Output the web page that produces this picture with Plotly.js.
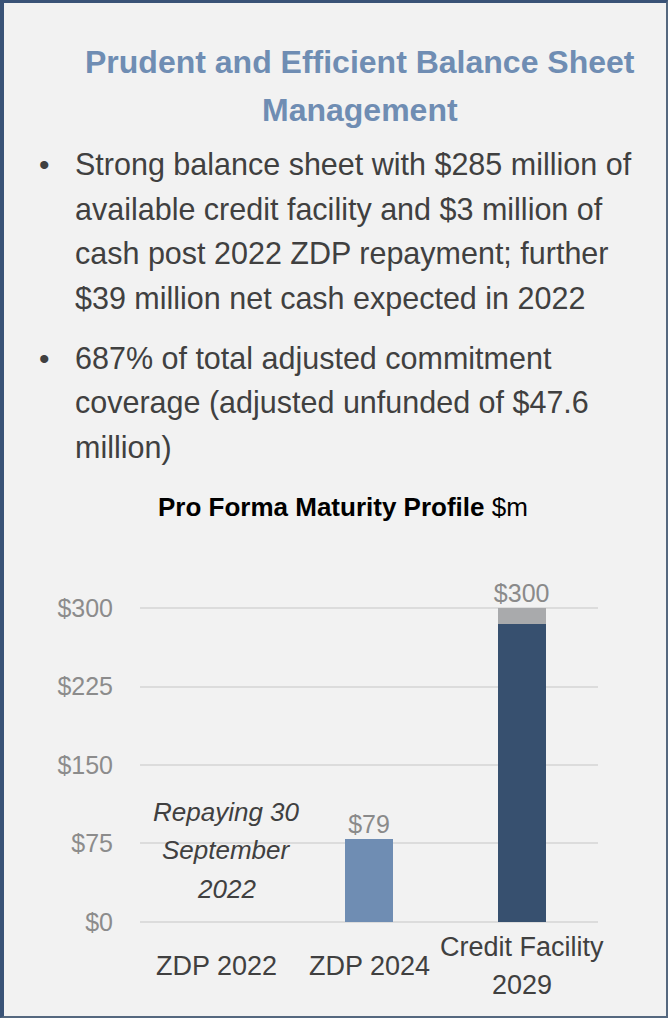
<!DOCTYPE html>
<html>
<head>
<meta charset="utf-8">
<script src="https://cdn.plot.ly/plotly-3.0.1.min.js"></script>
<style>
html,body{margin:0;padding:0;background:#f2f2f2;}
#wrap{position:absolute;left:0;top:0;width:668px;height:1018px;box-sizing:border-box;pointer-events:none;
 border-top:3px solid #3a5377;border-left:4px solid #3a5377;border-right:2px solid #55687f;border-bottom:2px solid #55687f;}
#chart{position:absolute;left:0;top:0;width:668px;height:1018px;}
</style>
</head>
<body>
<div id="chart"></div>
<div id="wrap"></div>
<script>
// ---- data ----
const categories = ["ZDP 2022", "ZDP 2024", "Credit Facility 2029"];
const categoryLabels = [["ZDP 2022"], ["ZDP 2024"], ["Credit Facility", "2029"]];
const drawn = [0, 79, 285];
const undrawn = [0, 0, 15];
const totals = [0, 79, 300];
const totalLabels = ["", "$79", "$300"];
const tickVals = [0, 75, 150, 225, 300];
const tickText = ["$0", "$75", "$150", "$225", "$300"];
const titleLines = ["Prudent and Efficient Balance Sheet", "Management"];
const bullet1Lines = ["Strong balance sheet with $285 million of", "available credit facility and $3 million of", "cash post 2022 ZDP repayment; further", "$39 million net cash expected in 2022"];
const bullet2Lines = ["687% of total adjusted commitment", "coverage (adjusted unfunded of $47.6", "million)"];
const noteLines = ["Repaying 30", "September", "2022"];

const FONT = "'Liberation Sans', Arial, sans-serif";

// plot area in page pixels
const L = 140, R = 598, Y300 = 608, Y0 = 922;
const pxPerUnit = (Y0 - Y300) / 300;
const pad = 2;
const T = Y300 - pad * pxPerUnit, B = Y0 + pad * pxPerUnit;
function px(x){return (x - L)/(R - L);}
function py(y){return (B - y)/(B - T);}

const traces = [
  {type:'bar', x:categories, y:drawn, width:0.315,
   marker:{color:['#6f8db3','#6f8db3','#37506f']}, hoverinfo:'none'},
  {type:'bar', x:categories, y:undrawn, width:0.315,
   marker:{color:'#a9aaac'}, hoverinfo:'none'},
  {type:'scatter', mode:'text', x:categories, y:totals, text:totalLabels,
   textposition:'top center', cliponaxis:false,
   textfont:{family:FONT, size:25, color:'#8a8a8a'}, hoverinfo:'none'}
];

const ann = [];
titleLines.forEach((t,i)=>ann.push({text:'<b>'+t+'</b>', xref:'paper', yref:'paper',
  x:px(360), y:py(62 + i*48), xanchor:'center', yanchor:'middle', showarrow:false,
  font:{family:FONT, size:32, color:'#6f8db3'}}));
function bullet(lines, y0){
  ann.push({text:'•', xref:'paper', yref:'paper', x:px(44), y:py(y0), xanchor:'center', yanchor:'middle',
    showarrow:false, font:{family:FONT, size:30, color:'#404040'}});
  lines.forEach((t,i)=>ann.push({text:t, xref:'paper', yref:'paper', x:px(73), y:py(y0 + i*44.7),
    xanchor:'left', yanchor:'middle', showarrow:false, font:{family:FONT, size:30.5, color:'#404040'}}));
}
bullet(bullet1Lines, 164);
bullet(bullet2Lines, 358);
ann.push({text:'<b>Pro Forma Maturity Profile</b> $m', xref:'paper', yref:'paper',
  x:px(343), y:py(507), xanchor:'center', yanchor:'middle', showarrow:false,
  font:{family:FONT, size:26, color:'#000000'}});
noteLines.forEach((t,i)=>ann.push({text:'<i>'+t+'</i>', xref:'x', yref:'paper',
  x:categories[0], xshift:10, y:py(812 + i*38.5), xanchor:'center', yanchor:'middle', showarrow:false,
  font:{family:FONT, size:26, color:'#404040'}}));
categoryLabels.forEach((lines,c)=>{
  const n = lines.length;
  lines.forEach((t,i)=>ann.push({text:t, xref:'x', yref:'paper', x:categories[c],
    y:py(966 + (i - (n-1)/2)*38), xanchor:'center', yanchor:'middle', showarrow:false,
    font:{family:FONT, size:27, color:'#404040'}}));
});

const layout = {
  width:668, height:1018,
  paper_bgcolor:'#f2f2f2', plot_bgcolor:'#f2f2f2',
  margin:{l:L, r:668-R, t:T, b:1018-B},
  barmode:'stack', showlegend:false,
  font:{family:FONT},
  xaxis:{type:'category', range:[-0.5, 2.5], showgrid:false, zeroline:false, showline:false, showticklabels:false, ticks:''},
  yaxis:{range:[-pad, 300+pad], tickmode:'array', tickvals:tickVals, ticktext:tickText, showgrid:true,
    gridcolor:'#dcdcdc', gridwidth:2, zeroline:false, showline:false,
    tickfont:{family:FONT, size:25, color:'#8c8c8c'}, ticks:'', ticklabelstandoff:26},
  annotations:ann
};

Plotly.newPlot('chart', traces, layout, {staticPlot:true, displayModeBar:false});
</script>
</body>
</html>
